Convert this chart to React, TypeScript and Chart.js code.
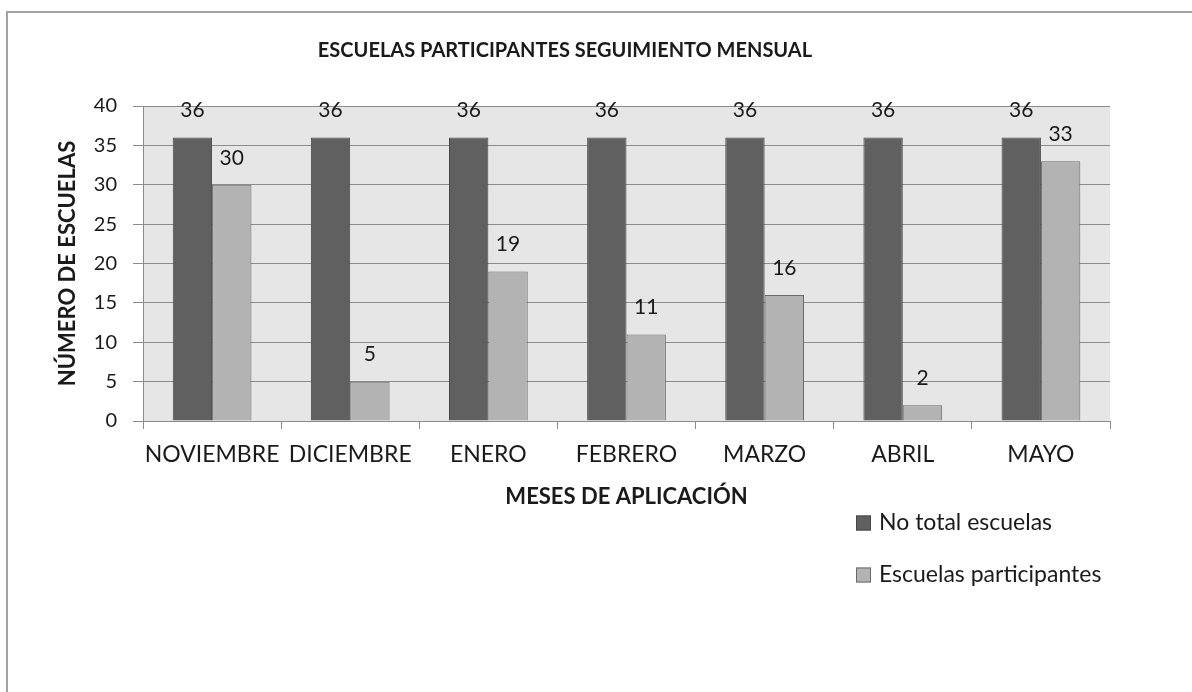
import React, { useEffect, useRef } from "react";
import { Chart, registerables } from "chart.js";

Chart.register(...registerables);

const chartTitle = "ESCUELAS PARTICIPANTES SEGUIMIENTO MENSUAL";
const xAxisTitle = "MESES DE APLICACIÓN";
const yAxisTitle = "NÚMERO DE ESCUELAS";
const months = ["NOVIEMBRE", "DICIEMBRE", "ENERO", "FEBRERO", "MARZO", "ABRIL", "MAYO"];
const seriesNames = ["No total escuelas", "Escuelas participantes"];
const totalSchools = [36, 36, 36, 36, 36, 36, 36];
const participatingSchools = [30, 5, 19, 11, 16, 2, 33];
const yMin = 0;
const yMax = 40;
const yStep = 5;

const FONT = "Lato, 'Open Sans', sans-serif";
const TEXT = "#1a1a1a";
const GRID = "#8c8c8c";

const plotBackground = {
  id: "plotBackground",
  beforeDraw(chart: any) {
    const { ctx, chartArea } = chart;
    ctx.save();
    ctx.fillStyle = "#e6e6e6";
    ctx.fillRect(chartArea.left, chartArea.top, chartArea.right - chartArea.left, chartArea.bottom - chartArea.top);
    ctx.restore();
  },
};

const valueLabels = {
  id: "valueLabels",
  afterDatasetsDraw(chart: any) {
    const { ctx } = chart;
    ctx.save();
    ctx.font = `21px ${FONT}`;
    ctx.fillStyle = TEXT;
    ctx.textAlign = "center";
    ctx.textBaseline = "middle";
    chart.data.datasets.forEach((ds: any, di: number) => {
      const meta = chart.getDatasetMeta(di);
      meta.data.forEach((el: any, i: number) => {
        ctx.fillText(String(ds.data[i]), el.x, el.y - 27);
      });
    });
    ctx.restore();
  },
};

const sideLegend = {
  id: "sideLegend",
  afterDraw(chart: any) {
    const { ctx, chartArea } = chart;
    const x0 = chartArea.right - 254;
    const y0 = chartArea.bottom + 102;
    ctx.save();
    ctx.font = `23px ${FONT}`;
    ctx.textAlign = "left";
    ctx.textBaseline = "middle";
    chart.data.datasets.forEach((ds: any, i: number) => {
      const y = y0 + i * 52;
      ctx.fillStyle = ds.backgroundColor;
      ctx.fillRect(x0, y - 7.5, 15, 15);
      ctx.strokeStyle = ds.borderColor;
      ctx.lineWidth = 1;
      ctx.strokeRect(x0 + 0.5, y - 7, 14, 14);
      ctx.fillStyle = TEXT;
      ctx.fillText(ds.label, x0 + 23, y);
    });
    ctx.restore();
  },
};

export default function App() {
  const canvasRef = useRef<HTMLCanvasElement | null>(null);

  useEffect(() => {
    const canvas = canvasRef.current;
    if (!canvas) return;
    const chart = new Chart(canvas, {
      type: "bar",
      data: {
        labels: months,
        datasets: [
          {
            label: seriesNames[0],
            data: totalSchools,
            backgroundColor: "#606060",
            borderColor: "#474747",
            borderWidth: 1,
          },
          {
            label: seriesNames[1],
            data: participatingSchools,
            backgroundColor: "#b3b3b3",
            borderColor: "#6a6a6a",
            borderWidth: 1,
          },
        ],
      },
      plugins: [plotBackground, valueLabels, sideLegend],
      options: {
        responsive: false,
        animation: false,
        devicePixelRatio: 1,
        datasets: {
          bar: { categoryPercentage: 0.57, barPercentage: 1 },
        },
        layout: { padding: { left: 20, right: 82, top: 0, bottom: 182 } },
        plugins: {
          legend: { display: false },
          tooltip: { enabled: false },
          title: {
            display: true,
            text: chartTitle,
            color: TEXT,
            font: { family: FONT, size: 20, weight: "bold" },
            padding: { top: 39, bottom: 43 },
          },
        },
        scales: {
          x: {
            grid: {
              display: true,
              drawOnChartArea: false,
              drawTicks: true,
              tickLength: 8,
              color: GRID,
              offset: true,
            },
            border: { display: true, color: GRID },
            ticks: {
              color: TEXT,
              font: { family: FONT, size: 23 },
              padding: 12,
              maxRotation: 0,
              autoSkip: false,
            },
            title: {
              display: true,
              text: xAxisTitle,
              color: TEXT,
              font: { family: FONT, size: 22, weight: "bold" },
              padding: { top: 3, bottom: 0 },
            },
          },
          y: {
            min: yMin,
            max: yMax,
            afterFit: (scale: any) => {
              scale.width = 123;
            },
            grid: {
              color: GRID,
              tickLength: 10,
              drawTicks: true,
            },
            border: { display: true, color: GRID },
            ticks: {
              stepSize: yStep,
              color: TEXT,
              font: { family: FONT, size: 20 },
              padding: 16,
            },
            title: {
              display: true,
              text: yAxisTitle,
              color: TEXT,
              font: { family: FONT, size: 22, weight: "bold" },
              padding: { top: 35, bottom: 0 },
            },
          },
        },
      },
    });
    return () => chart.destroy();
  }, []);

  return (
    <div
      style={{
        position: "fixed",
        left: 0,
        top: 0,
        width: 1192,
        height: 692,
        overflow: "hidden",
        background: "#ffffff",
      }}
    >
      <div
        style={{
          position: "absolute",
          left: 6,
          top: 11,
          width: 1300,
          height: 800,
          border: "2px solid #a3a3a3",
        }}
      />
      <canvas
        ref={canvasRef}
        width={1192}
        height={692}
        style={{ position: "absolute", left: 0, top: 0, width: 1192, height: 692 }}
      />
    </div>
  );
}
